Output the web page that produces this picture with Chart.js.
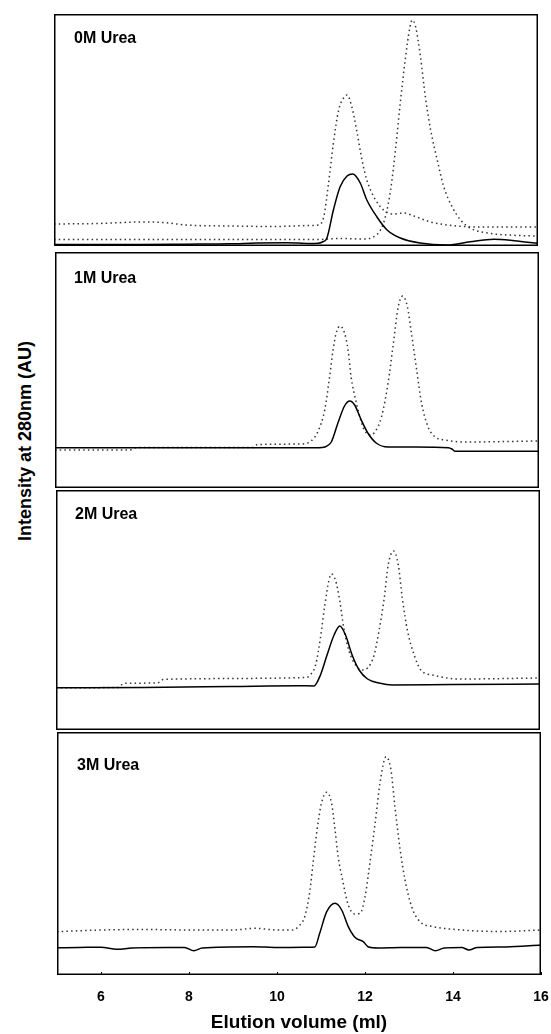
<!DOCTYPE html>
<html>
<head>
<meta charset="utf-8">
<script src="https://cdn.jsdelivr.net/npm/chart.js@4.4.1/dist/chart.umd.min.js"></script>
<style>
body{margin:0;background:#fff;}
#wrap{position:relative;width:551px;height:1034px;overflow:hidden;font-family:"Liberation Sans",Arial,sans-serif;}
.panel{position:absolute;}
.lbl{position:absolute;font-weight:bold;font-size:16px;line-height:16px;white-space:nowrap;color:#000;}
#ytitle{position:absolute;left:25px;top:441px;transform:translate(-50%,-50%) rotate(-90deg);font-weight:bold;font-size:18px;white-space:nowrap;color:#000;}
</style>
</head>
<body>
<div id="wrap">
  <div class="panel" style="left:54px;top:14px;width:484px;height:232px"><canvas id="p0"></canvas></div>
  <div class="panel" style="left:55px;top:252px;width:484px;height:236px"><canvas id="p1"></canvas></div>
  <div class="panel" style="left:56px;top:490px;width:484px;height:240px"><canvas id="p2"></canvas></div>
  <div class="panel" style="left:0px;top:732px;width:551px;height:302px"><canvas id="p3"></canvas></div>
  <div class="lbl" style="left:74px;top:30px">0M Urea</div>
  <div class="lbl" style="left:74px;top:270px">1M Urea</div>
  <div class="lbl" style="left:75px;top:506px">2M Urea</div>
  <div class="lbl" style="left:77px;top:757px">3M Urea</div>
  <div id="ytitle">Intensity at 280nm (AU)</div>
</div>
<script>
Chart.defaults.font.family = '"Liberation Sans", Arial, sans-serif';
Chart.defaults.color = '#000';

const xTicks = [6, 8, 10, 12, 14, 16];
const xTitle = 'Elution volume (ml)';

// 0M urea
const x0Solid = [5, 6, 7, 8, 9, 9.6, 10.3, 10.8, 11.0, 11.1, 11.2, 11.35, 11.5, 11.66, 11.79, 11.96, 12.11, 12.34, 12.57, 12.87, 13.32, 13.94, 14.46, 15.0, 15.46, 16];
const y0Solid = [1.5, 1.5, 1.5, 1.8, 2.2, 3, 3.3, 2.5, 2.7, 4, 7.7, 36, 59, 70, 72, 63, 46, 29, 16, 8, 3, 1, 4.3, 6.7, 5.3, 2.7];
const x0DotA = [5, 6, 7, 7.5, 8, 9, 10, 10.8, 11.0, 11.13, 11.24, 11.35, 11.47, 11.58, 11.66, 11.77, 11.89, 12.0, 12.11, 12.27, 12.49, 12.72, 12.95, 13.18, 13.56, 13.94, 14.7, 16];
const y0DotA = [22, 22.5, 24, 23.5, 21, 20, 19.5, 20.5, 21, 29, 63, 103, 136, 148, 151, 139, 113, 86, 66, 49, 36, 32, 33, 30, 24, 21, 19, 19];
const x0DotB = [5, 8, 10, 11.0, 11.5, 12.04, 12.27, 12.42, 12.53, 12.65, 12.76, 12.87, 12.99, 13.09, 13.14, 13.22, 13.33, 13.44, 13.56, 13.71, 13.86, 14.05, 14.24, 14.47, 14.85, 15.46, 16];
const y0DotB = [6.5, 6.5, 6.5, 6.5, 7.5, 7, 9.3, 16, 29, 56, 96, 143, 189, 219, 226, 219, 189, 149, 116, 86, 59, 39, 26, 17.7, 13, 10.7, 10];

// 1M urea
const x1Solid = [5, 8, 11.0, 11.13, 11.28, 11.43, 11.58, 11.70, 11.81, 11.96, 12.11, 12.30, 12.57, 13.18, 13.94, 14.02, 14.09, 16];
const y1Solid = [40.3, 40.3, 40.3, 41, 46, 65, 82, 87, 83, 68, 55, 45, 41, 41, 40.3, 39, 36.7, 36.7];
const x1Dot = [5, 6.7, 6.85, 9.5, 9.6, 10.6, 10.82, 10.97, 11.13, 11.24, 11.32, 11.39, 11.48, 11.58, 11.66, 11.73, 11.85, 12.0, 12.15, 12.27, 12.42, 12.57, 12.68, 12.80, 12.90, 13.01, 13.10, 13.22, 13.33, 13.48, 13.64, 13.86, 14.32, 16];
const y1Dot = [38, 38, 40.5, 40.5, 43.5, 44, 47, 56, 78, 111, 138, 155, 162, 155, 138, 111, 85, 61, 53, 56, 71, 105, 141, 181, 192, 181, 155, 118, 85, 61, 51, 48, 46, 47];

// 2M urea
const x2Solid = [5, 7, 9, 10.5, 10.86, 11.01, 11.16, 11.32, 11.45, 11.58, 11.73, 11.89, 12.08, 12.34, 12.65, 14, 16];
const y2Solid = [42.3, 42.5, 43.5, 44.3, 44, 55, 75, 95, 104, 95, 75, 60, 51, 47, 45, 45.5, 46];
const x2Dot = [5, 6.4, 6.55, 7.3, 7.45, 10.7, 10.75, 10.9, 11.01, 11.11, 11.2, 11.26, 11.35, 11.45, 11.54, 11.66, 11.81, 11.96, 12.08, 12.23, 12.34, 12.46, 12.55, 12.67, 12.78, 12.87, 12.99, 13.14, 13.29, 13.56, 14.17, 16];
const y2Dot = [42.3, 42.5, 46.7, 47, 50.7, 52.5, 54, 65, 92, 125, 149, 156, 150, 129, 102, 79, 65, 60, 62, 75, 99, 132, 165, 179, 165, 132, 99, 75, 60, 55, 51, 52];

// 3M urea
const x3Solid = [5, 5.5, 6.0, 6.36, 6.7, 7.5, 7.9, 8.11, 8.3, 9.47, 10.0, 10.59, 10.86, 10.97, 11.13, 11.32, 11.47, 11.62, 11.77, 11.96, 12.08, 12.3, 12.8, 13.4, 13.6, 13.8, 14.2, 14.36, 14.55, 15.2, 16];
const y3Solid = [27.3, 27.5, 27.8, 25.7, 27, 27.5, 27.5, 24.3, 27, 28.3, 27.5, 27.7, 28, 41.7, 63.3, 71.7, 65, 48.3, 37.7, 33.3, 28, 27, 27.5, 27.5, 24.3, 27, 27.5, 25, 27.5, 28, 30];
const x3Dot = [5, 6, 7, 8, 9, 9.5, 10.0, 10.35, 10.52, 10.63, 10.75, 10.82, 10.91, 11.01, 11.13, 11.24, 11.32, 11.39, 11.49, 11.62, 11.77, 11.89, 12.0, 12.11, 12.23, 12.34, 12.48, 12.59, 12.68, 12.80, 12.91, 13.06, 13.25, 13.56, 14.01, 15.08, 16];
const y3Dot = [43.3, 45, 45.5, 45, 45, 46.7, 45, 45, 50, 58.3, 85, 111.7, 145, 171.7, 182.7, 171.7, 145, 118.3, 95, 70, 61, 61.7, 78.3, 111.7, 151.7, 191.7, 218.3, 205, 168.3, 125, 95, 68.3, 53.3, 48.3, 45.7, 43.5, 45];

// top of each panel's intensity scale
const yMax = [232, 236, 240, 243];

function pts(xs, ys) {
  return xs.map((x, i) => ({x: x, y: ys[i]}));
}

function solid(xs, ys) {
  return {data: pts(xs, ys), borderColor: '#000', borderWidth: 1.5, pointRadius: 0, fill: false, cubicInterpolationMode: 'monotone'};
}
function dotted(xs, ys) {
  return {data: pts(xs, ys), borderColor: '#333', borderWidth: 1.5, borderDash: [1.5, 3.2], pointRadius: 0, fill: false, cubicInterpolationMode: 'monotone'};
}

// box round the plot area, plus small inward ticks on the bottom panel
const framePlugin = {
  id: 'frame',
  afterDraw(chart) {
    const a = chart.chartArea;
    const ctx = chart.ctx;
    ctx.save();
    ctx.strokeStyle = '#000';
    ctx.lineWidth = 1.5;
    ctx.strokeRect(a.left + 0.75, a.top + 0.75, a.width - 1.5, a.height - 1.5);
    if (chart.options.plugins.frame.ticks) {
      const sx = chart.scales.x;
      ctx.lineWidth = 1;
      xTicks.forEach(v => {
        const px = Math.round(sx.getPixelForValue(v)) + 0.5;
        ctx.beginPath();
        ctx.moveTo(px, a.bottom);
        ctx.lineTo(px, a.bottom - 3);
        ctx.stroke();
      });
    }
    ctx.restore();
  }
};

function makePanel(id, datasets, top, bottomAxis) {
  return new Chart(document.getElementById(id), {
    type: 'line',
    data: {datasets: datasets},
    plugins: [framePlugin],
    options: {
      responsive: true,
      maintainAspectRatio: false,
      animation: false,
      layout: {padding: bottomAxis ? {left: 57, right: 10, top: 0, bottom: 0} : 0},
      plugins: {legend: {display: false}, tooltip: {enabled: false}, frame: {ticks: bottomAxis}},
      scales: {
        x: {
          type: 'linear', min: 5, max: 16,
          display: bottomAxis,
          grid: {display: false},
          border: {display: false},
          afterBuildTicks: s => { s.ticks = xTicks.map(v => ({value: v})); },
          afterFit: s => { if (bottomAxis) { s.height = 59; s.paddingRight = 0; } },
          ticks: {padding: 6, font: {size: 14, weight: 'bold'}, color: '#000'},
          title: {display: true, text: xTitle, font: {size: 19, weight: 'bold'}, color: '#000', padding: {top: 0, bottom: 0}}
        },
        y: {min: 0, max: top, display: false}
      }
    }
  });
}

makePanel('p0', [solid(x0Solid, y0Solid), dotted(x0DotA, y0DotA), dotted(x0DotB, y0DotB)], yMax[0], false);
makePanel('p1', [solid(x1Solid, y1Solid), dotted(x1Dot, y1Dot)], yMax[1], false);
makePanel('p2', [solid(x2Solid, y2Solid), dotted(x2Dot, y2Dot)], yMax[2], false);
makePanel('p3', [solid(x3Solid, y3Solid), dotted(x3Dot, y3Dot)], yMax[3], true);
</script>
</body>
</html>
